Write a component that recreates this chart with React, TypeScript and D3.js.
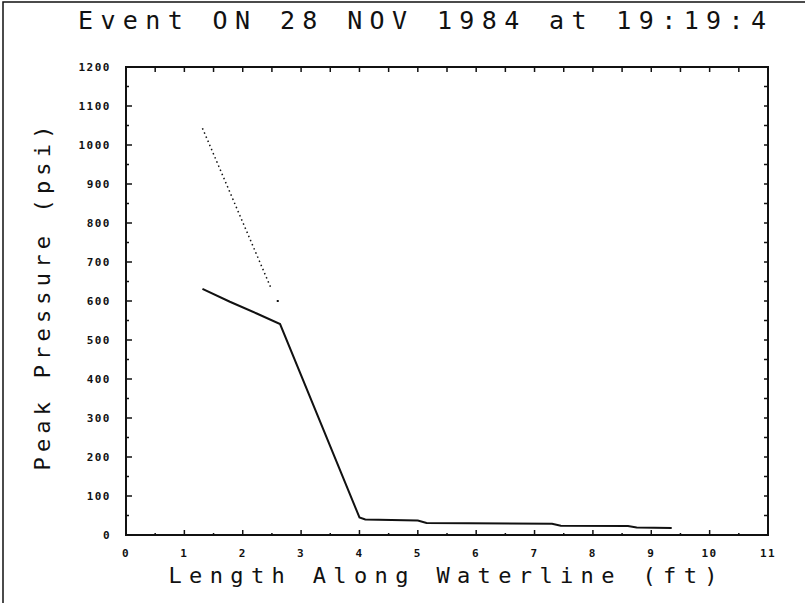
import { useEffect, useRef } from 'react'
import * as d3 from 'd3'

const TITLE = 'Event ON 28 NOV 1984 at 19:19:4'
const X_LABEL = 'Length Along Waterline (ft)'
const Y_LABEL = 'Peak Pressure (psi)'

const X_TICKS = [0, 1, 2, 3, 4, 5, 6, 7, 8, 9, 10, 11]
const Y_TICKS = [0, 100, 200, 300, 400, 500, 600, 700, 800, 900, 1000, 1100, 1200]

// solid trace (peak pressure along the waterline)
const SOLID_X = [1.31, 1.78, 2.24, 2.64, 4.0, 4.1, 5.0, 5.15, 7.3, 7.45, 8.6, 8.75, 9.35]
const SOLID_Y = [631, 598, 568, 541, 45, 40, 37, 31, 29, 24, 23, 19, 18]

// dotted trace
const DOTTED_X = [1.31, 2.49]
const DOTTED_Y = [1043, 631]
const STRAY_X = [2.6]
const STRAY_Y = [600]

const W = 805
const H = 603

export default function App() {
  const ref = useRef<SVGSVGElement>(null)

  useEffect(() => {
    const svg = d3.select(ref.current)
    svg.selectAll('*').remove()

    const left = 126
    const right = 768
    const top = 67
    const bottom = 535

    const x = d3.scaleLinear().domain([0, 11]).range([left, right])
    const y = d3.scaleLinear().domain([0, 1200]).range([bottom, top])

    svg.append('rect').attr('width', W).attr('height', H).attr('fill', '#fff')

    // scan border on the left and top
    svg.append('path')
      .attr('d', `M3,${H} L3,2 L${W},2`)
      .attr('fill', 'none')
      .attr('stroke', '#111')
      .attr('stroke-width', 1.5)

    svg.append('text')
      .attr('x', 422)
      .attr('y', 29)
      .attr('text-anchor', 'middle')
      .attr('font-family', 'DejaVu Sans Mono, monospace')
      .attr('font-size', 25)
      .attr('textLength', 688)
      .attr('lengthAdjust', 'spacing')
      .attr('fill', '#111')
      .text(TITLE)

    // frame
    svg.append('rect')
      .attr('x', left)
      .attr('y', top)
      .attr('width', right - left)
      .attr('height', bottom - top)
      .attr('fill', 'none')
      .attr('stroke', '#111')
      .attr('stroke-width', 2)

    const g = svg.append('g').attr('stroke', '#111').attr('stroke-width', 1.5)

    // left ticks: majors every 100, minors between; right ticks every 50
    d3.range(0, 1201, 50).forEach((v) => {
      const len = v % 100 === 0 ? 6 : 3
      g.append('line').attr('x1', left).attr('x2', left + len).attr('y1', y(v)).attr('y2', y(v))
      g.append('line').attr('x1', right).attr('x2', right - 4).attr('y1', y(v)).attr('y2', y(v))
    })

    // bottom and top ticks
    d3.range(0, 11.01, 0.5).forEach((v) => {
      const major = Number.isInteger(v)
      g.append('line').attr('x1', x(v)).attr('x2', x(v)).attr('y1', bottom).attr('y2', bottom - (major ? 5 : 2))
      g.append('line').attr('x1', x(v)).attr('x2', x(v)).attr('y1', top).attr('y2', top + 5)
    })

    svg.append('g')
      .selectAll('text')
      .data(Y_TICKS)
      .enter()
      .append('text')
      .attr('x', 111)
      .attr('y', (d) => y(d))
      .attr('dy', '0.35em')
      .attr('text-anchor', 'end')
      .attr('font-family', 'DejaVu Sans Mono, monospace')
      .attr('font-weight', 'bold')
      .attr('font-size', 11)
      .attr('letter-spacing', 1.5)
      .attr('fill', '#111')
      .text((d) => d)

    svg.append('g')
      .selectAll('text')
      .data(X_TICKS)
      .enter()
      .append('text')
      .attr('x', (d) => x(d))
      .attr('y', 553)
      .attr('dy', '0.35em')
      .attr('text-anchor', 'middle')
      .attr('font-family', 'DejaVu Sans Mono, monospace')
      .attr('font-weight', 'bold')
      .attr('font-size', 11)
      .attr('letter-spacing', 1.5)
      .attr('fill', '#111')
      .text((d) => d)

    svg.append('text')
      .attr('x', 443)
      .attr('y', 583)
      .attr('text-anchor', 'middle')
      .attr('font-family', 'DejaVu Sans Mono, monospace')
      .attr('font-size', 22)
      .attr('textLength', 549)
      .attr('lengthAdjust', 'spacing')
      .attr('fill', '#111')
      .text(X_LABEL)

    svg.append('text')
      .attr('transform', `translate(50,${298}) rotate(-90)`)
      .attr('text-anchor', 'middle')
      .attr('font-family', 'DejaVu Sans Mono, monospace')
      .attr('font-size', 22)
      .attr('textLength', 345)
      .attr('lengthAdjust', 'spacing')
      .attr('fill', '#111')
      .text(Y_LABEL)

    const line = d3.line<number>()
      .x((i) => x(SOLID_X[i]))
      .y((i) => y(SOLID_Y[i]))

    svg.append('path')
      .attr('d', line(d3.range(SOLID_X.length)))
      .attr('fill', 'none')
      .attr('stroke', '#111')
      .attr('stroke-width', 2)

    const dotted = d3.line<number>()
      .x((i) => x(DOTTED_X[i]))
      .y((i) => y(DOTTED_Y[i]))

    svg.append('path')
      .attr('d', dotted(d3.range(DOTTED_X.length)))
      .attr('fill', 'none')
      .attr('stroke', '#111')
      .attr('stroke-width', 1.5)
      .attr('stroke-dasharray', '1.5,3')

    svg.append('g')
      .selectAll('rect')
      .data(d3.range(STRAY_X.length))
      .enter()
      .append('rect')
      .attr('x', (i) => x(STRAY_X[i]) - 1)
      .attr('y', (i) => y(STRAY_Y[i]) - 1)
      .attr('width', 2)
      .attr('height', 2)
      .attr('fill', '#111')
  }, [])

  return (
    <svg
      ref={ref}
      width={W}
      height={H}
      style={{ position: 'absolute', left: 0, top: 0, display: 'block' }}
    />
  )
}
